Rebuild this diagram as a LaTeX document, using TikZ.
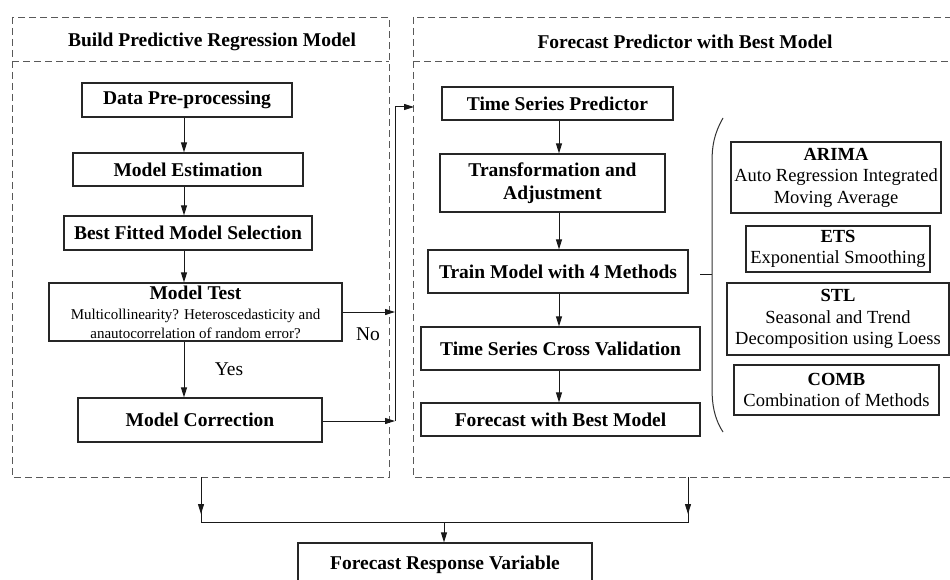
\documentclass[tikz,border=0pt]{standalone}
\usepackage{fontspec}
\setmainfont{Liberation Serif}
\usetikzlibrary{arrows.meta}

\tikzset{
  panel/.style={draw=gray!70!black, line width=0.8pt, dash pattern=on 7pt off 4pt},
  stepbox/.style={draw=black!85, line width=1.2pt, inner sep=0pt, align=center,
    font=\bfseries\fontsize{19.5}{23.5}\selectfont},
  methodbox/.style={draw=black!85, line width=1.2pt, inner sep=0pt, align=center,
    font=\fontsize{18.5}{21.5}\selectfont},
  paneltitle/.style={font=\bfseries\fontsize{19.5}{23.5}\selectfont},
  branchlabel/.style={font=\fontsize{19.5}{23.5}\selectfont},
  arr/.style={draw=black!90, line width=1pt, -{Triangle[length=10pt,width=6pt]}},
  ln/.style={draw=black!90, line width=1pt},
}

\begin{document}
\begin{tikzpicture}[x=1pt, y=-1pt]
\clip (0,0) rectangle (950,580);
\fill[white] (0,0) rectangle (950,580);

% ---- panels ----
\draw[panel] (12,17) rectangle (389,477);
\draw[panel] (12,61) -- (389,61);
\draw[panel] (413,17) rectangle (965,477);
\draw[panel] (413,61) -- (965,61);
\node[paneltitle] (ttl1) at (212,42) {Build Predictive Regression Model};
\node[paneltitle] (ttl2) at (685,42) {Forecast Predictor with Best Model};

% ---- regression model steps ----
\node[stepbox, minimum width=210pt, minimum height=34pt] (dp) at (187,100) {Data Pre-processing};
\node[stepbox, minimum width=230pt, minimum height=33pt] (me) at (188,169.5) {Model Estimation};
\node[stepbox, minimum width=248pt, minimum height=34pt] (bf) at (188,233) {Best Fitted Model Selection};
\node[stepbox, minimum width=293pt, minimum height=58pt] (mt) at (195.5,312)
  {Model Test\\[-3pt]{\mdseries\fontsize{15}{18}\selectfont Multicollinearity? Heteroscedasticity and}\\[-5pt]
   {\mdseries\fontsize{15}{18}\selectfont anautocorrelation of random error?}};
\node[stepbox, minimum width=244pt, minimum height=44pt] (mc) at (200,420) {Model Correction};

\coordinate (lx) at (184,0);
\draw[arr] (lx |- dp.south) -- (lx |- me.north);
\draw[arr] (lx |- me.south) -- (lx |- bf.north);
\draw[arr] (lx |- bf.south) -- (lx |- mt.north);
\draw[arr] (lx |- mt.south) -- (lx |- mc.north);
\node[branchlabel] (yes) at (229,369) {Yes};
\node[branchlabel] (no) at (368,334) {No};

% ---- hand-over bus to the forecasting panel ----
\coordinate (busTop) at (395,107);
\coordinate (busBot) at (395,421);
\coordinate (entry) at (414,107);
\draw[arr] (mt.east) -- (mt.east -| busTop);
\draw[arr] (mc.east |- busBot) -- (busBot);
\draw[ln] (busBot) -- (busTop);
\draw[arr] (busTop) -- (entry);

% ---- forecasting steps ----
\node[stepbox, minimum width=231pt, minimum height=33pt] (tsp) at (557.5,103.5) {Time Series Predictor};
\node[stepbox, minimum width=225pt, minimum height=58pt] (ta) at (552.5,183) {Transformation and\\Adjustment};
\node[stepbox, minimum width=260pt, minimum height=43pt] (tm) at (558,271.5) {Train Model with 4 Methods};
\node[stepbox, minimum width=279pt, minimum height=43pt] (cv) at (560.5,348.5) {Time Series Cross Validation};
\node[stepbox, minimum width=279pt, minimum height=33pt] (fb) at (560.5,419.5) {Forecast with Best Model};

\coordinate (rx) at (559,0);
\draw[arr] (rx |- tsp.south) -- (rx |- ta.north);
\draw[arr] (rx |- ta.south) -- (rx |- tm.north);
\draw[arr] (rx |- tm.south) -- (rx |- cv.north);
\draw[arr] (rx |- cv.south) -- (rx |- fb.north);

% ---- the four methods ----
\coordinate (tick) at (700,274);
\coordinate (brace) at (712,274);
\draw[ln] (tick) -- (brace);
\draw[line width=1pt, black!80] (723,118) .. controls (714,134) and (712,146) .. (712,162)
  -- (712,388) .. controls (712,404) and (714,418) .. (723,432);

\node[methodbox, minimum width=210pt, minimum height=71pt] (arima) at (836,177.5)
  {\textbf{ARIMA}\\Auto Regression Integrated\\Moving Average};
\node[methodbox, minimum width=184pt, minimum height=46pt] (ets) at (838,249)
  {\textbf{ETS}\\Exponential Smoothing};
\node[methodbox, minimum width=222pt, minimum height=72pt] (stl) at (838,319)
  {\textbf{STL}\\Seasonal and Trend\\Decomposition using Loess};
\node[methodbox, minimum width=205pt, minimum height=50pt] (comb) at (836.5,390)
  {\textbf{COMB}\\Combination of Methods};

% ---- merge into the final output ----
\node[stepbox, minimum width=294pt, minimum height=44pt] (frv) at (445,565) {Forecast Response Variable};
\coordinate (outL) at (201,477);
\coordinate (outR) at (688,477);
\coordinate (joinL) at (201,522);
\coordinate (joinR) at (688,522);
\coordinate (joinM) at (444,522);
\draw[ln] (outL) -- (joinL) -- (joinR) -- (outR);
\draw[arr] (outL) -- ++(0,37);
\draw[arr] (outR) -- ++(0,37);
\draw[arr] (joinM) -- (joinM |- frv.north);
\end{tikzpicture}
\end{document}
